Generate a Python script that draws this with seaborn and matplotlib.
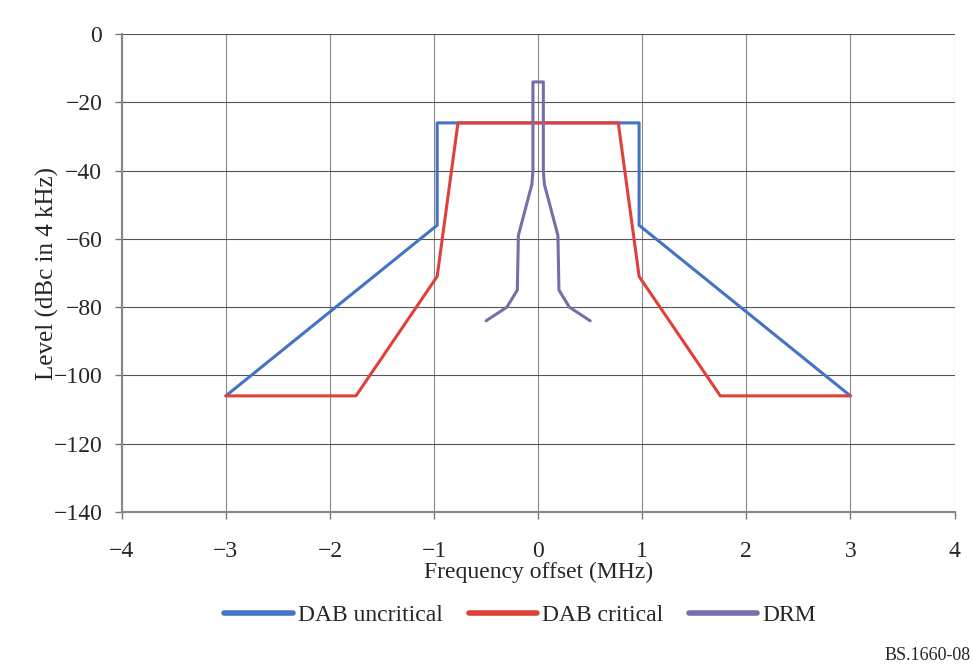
import pandas as pd
import numpy as np
import seaborn as sns
import matplotlib.pyplot as plt

# Masques spectraux (offset en MHz, niveau en dBc dans 4 kHz)
dab_uncrit_x = [-3, -0.97, -0.97, 0.97, 0.97, 3]
dab_uncrit_y = [-106, -56, -26, -26, -56, -106]

dab_crit_x = [-3, -1.75, -0.97, -0.77, 0.77, 0.97, 1.75, 3]
dab_crit_y = [-106, -106, -71, -26, -26, -71, -106, -106]

drm_x = [-0.5, -0.3, -0.2, -0.19, -0.06, -0.05, -0.05, 0.05, 0.05, 0.06, 0.19, 0.2, 0.3, 0.5]
drm_y = [-84, -80, -75, -59, -44, -40, -14, -14, -40, -44, -59, -75, -80, -84]

series_names = ['DAB uncritical', 'DAB critical', 'DRM']
cores = {'DAB uncritical': '#4472C4', 'DAB critical': '#E0403A', 'DRM': '#7A6CA8'}

# DataFrame em formato longo
linhas = []
for nome, xs, ys in zip(series_names,
                        [dab_uncrit_x, dab_crit_x, drm_x],
                        [dab_uncrit_y, dab_crit_y, drm_y]):
    for i, (x, y) in enumerate(zip(xs, ys)):
        linhas.append({'ordem': i, 'Frequency': x, 'Level': y, 'Serie': nome})
df = pd.DataFrame(linhas)

sns.set_style('white')
plt.rcParams['font.family'] = ['Liberation Serif', 'DejaVu Serif']

fig = plt.figure(figsize=(9.74, 6.70), dpi=100)
ax = fig.add_axes([0.125, 0.236, 0.855, 0.713])

sns.lineplot(data=df, x='Frequency', y='Level', hue='Serie', hue_order=series_names,
             palette=cores, estimator=None, sort=False, linewidth=2.2, ax=ax, legend=True)

ax.set_xlim(-4, 4)
ax.set_ylim(-140, 0)
ax.set_xticks(np.arange(-4, 5, 1))
ax.set_yticks(np.arange(-140, 1, 20))
ax.set_xticklabels([f'{v}'.replace('-', '\u2212') for v in range(-4, 5)])
ax.set_yticklabels([f'{v}'.replace('-', '\u2212') for v in range(-140, 1, 20)])
ax.tick_params(axis='both', labelsize=17, direction='out', length=5, width=1, color='#777777',
               left=True, bottom=True)
ax.tick_params(axis='x', pad=16)
ax.tick_params(axis='y', pad=9)
ax.grid(True, axis='y', color='#555555', linewidth=0.8)
ax.grid(True, axis='x', color='#888888', linewidth=0.8)
ax.set_axisbelow(True)
for lado in ['top', 'right']:
    ax.spines[lado].set_visible(False)
for lado in ['left', 'bottom']:
    ax.spines[lado].set_color('#888888')
    ax.spines[lado].set_linewidth(1.5)

ax.set_xlabel('Frequency offset (MHz)', fontsize=17, labelpad=0)
ax.set_ylabel('Level (dBc in 4 kHz)', fontsize=18, labelpad=-4)

handles, labels = ax.get_legend_handles_labels()
ax.get_legend().remove()
for h in handles:
    h.set_linewidth(4)
fig.legend(handles, labels, loc='center', bbox_to_anchor=(0.534, 0.082), ncol=3,
           frameon=False, fontsize=17, handlelength=2.9, handletextpad=0.2, columnspacing=1.1)

fig.text(0.997, 0.022, 'BS.1660-08', fontsize=13, ha='right', va='center')

fig.savefig('out.png', dpi=100)
